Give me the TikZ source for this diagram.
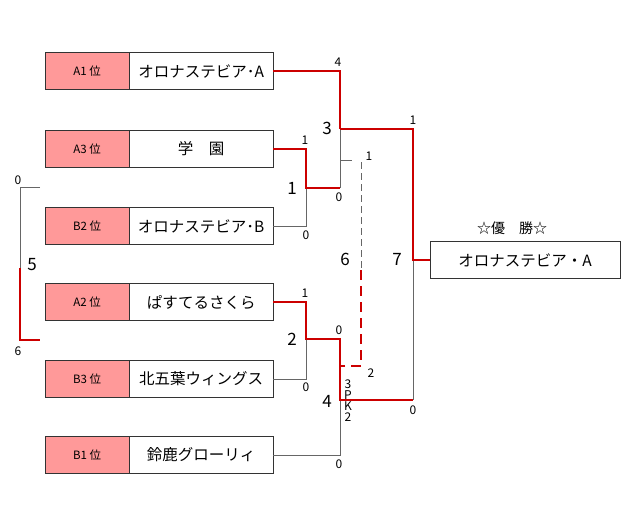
\documentclass[tikz,border=0pt]{standalone}
\usepackage{fontspec}
\setmainfont{Noto Sans CJK JP}
\begin{document}
\begin{tikzpicture}[x=1pt,y=-1pt,
 rk/.style={draw=black!80,fill=red!40,minimum width=84pt,minimum height=37pt,inner sep=0pt,font=\fontsize{11.5}{11.5}\selectfont,anchor=west},
 nm/.style={draw=black!80,fill=white,minimum width=144pt,minimum height=37pt,inner sep=0pt,font=\fontsize{15.5}{15.5}\selectfont,anchor=west},
 win/.style={draw=red!80!black,line width=2.2pt},
 lose/.style={draw=black!60,line width=0.6pt},
 sm/.style={font=\fontsize{12}{12}\selectfont,inner sep=0pt},
 bg/.style={font=\fontsize{17}{17}\selectfont,inner sep=0pt}]
\useasboundingbox (0,0) rectangle (640,520);
\foreach \i/\y/\r/\n in {1/71/A1 位/オロナステビア･A,2/149/A3 位/学\quad 園,3/226/B2 位/オロナステビア･B,4/302/A2 位/ぱすてるさくら,5/379/B3 位/北五葉ウィングス,6/455/B1 位/鈴鹿グローリィ}{
 \node[rk] (r\i) at (45,\y) {\r};
 \node[nm] (n\i) at (129,\y) {\n};
}
\node[draw=black!80,minimum width=190pt,minimum height=37pt,inner sep=0pt,font=\fontsize{15.5}{15.5}\selectfont] (ch) at (525,260) {オロナステビア・A};
\node[font=\fontsize{14}{14}\selectfont] (tt) at (512,228) {☆優\quad 勝☆};
\coordinate (m1) at (306,188);
\coordinate (m2) at (306,339);
\coordinate (s1) at (340,129);
\coordinate (s2) at (340,400);
\coordinate (f) at (413,260);
\draw[lose] (n3.east) -| (m1);
\draw[lose] (340,129) -- (340,188);
\draw[lose] (n5.east) -| (m2);
\draw[lose] (n6.east) -| (s2);
\draw[lose] (413,260) -- (413,400);
\draw[win] (n1.east) -| (s1);
\draw[win] (n2.east) -| (m1) -- (340,188);
\draw[win] (s1) -| (f) -- (ch.west);
\draw[win] (n4.east) -| (m2) -- (340,339) -- (s2) -- (413,400);
\draw[lose] (340,160) -- (352,160);
\draw[lose,dash pattern=on 7pt off 4pt] (361,162) -- (361,270);
\draw[win,line width=2.4pt,dash pattern=on 10pt off 6pt] (361,270) -- (361,366) -- (340,366);
\draw[lose] (40,187) -- (20,187) -- (20,268);
\draw[win] (20,268) -- (20,340) -- (40,340);
\node[sm] at (18,180) {0};
\node[bg] at (32,265) {5};
\node[sm] at (18,351) {6};
\node[sm] at (338,62) {4};
\node[bg] at (327,128) {3};
\node[sm] at (413,120) {1};
\node[sm] at (305,140) {1};
\node[bg] at (292,188) {1};
\node[sm] at (339,197) {0};
\node[sm] at (306,235) {0};
\node[sm] at (369,156) {1};
\node[bg] at (345,259) {6};
\node[bg] at (397,259) {7};
\node[sm] at (305,293) {1};
\node[bg] at (292,339) {2};
\node[sm] at (339,330) {0};
\node[sm] at (371,373) {2};
\node[font=\fontsize{12}{11}\selectfont,align=center,inner sep=0pt] at (348,401) {3\\P\\K\\2};
\node[bg] at (327,401) {4};
\node[sm] at (413,410) {0};
\node[sm] at (306,387) {0};
\node[sm] at (339,464) {0};
\end{tikzpicture}
\end{document}
